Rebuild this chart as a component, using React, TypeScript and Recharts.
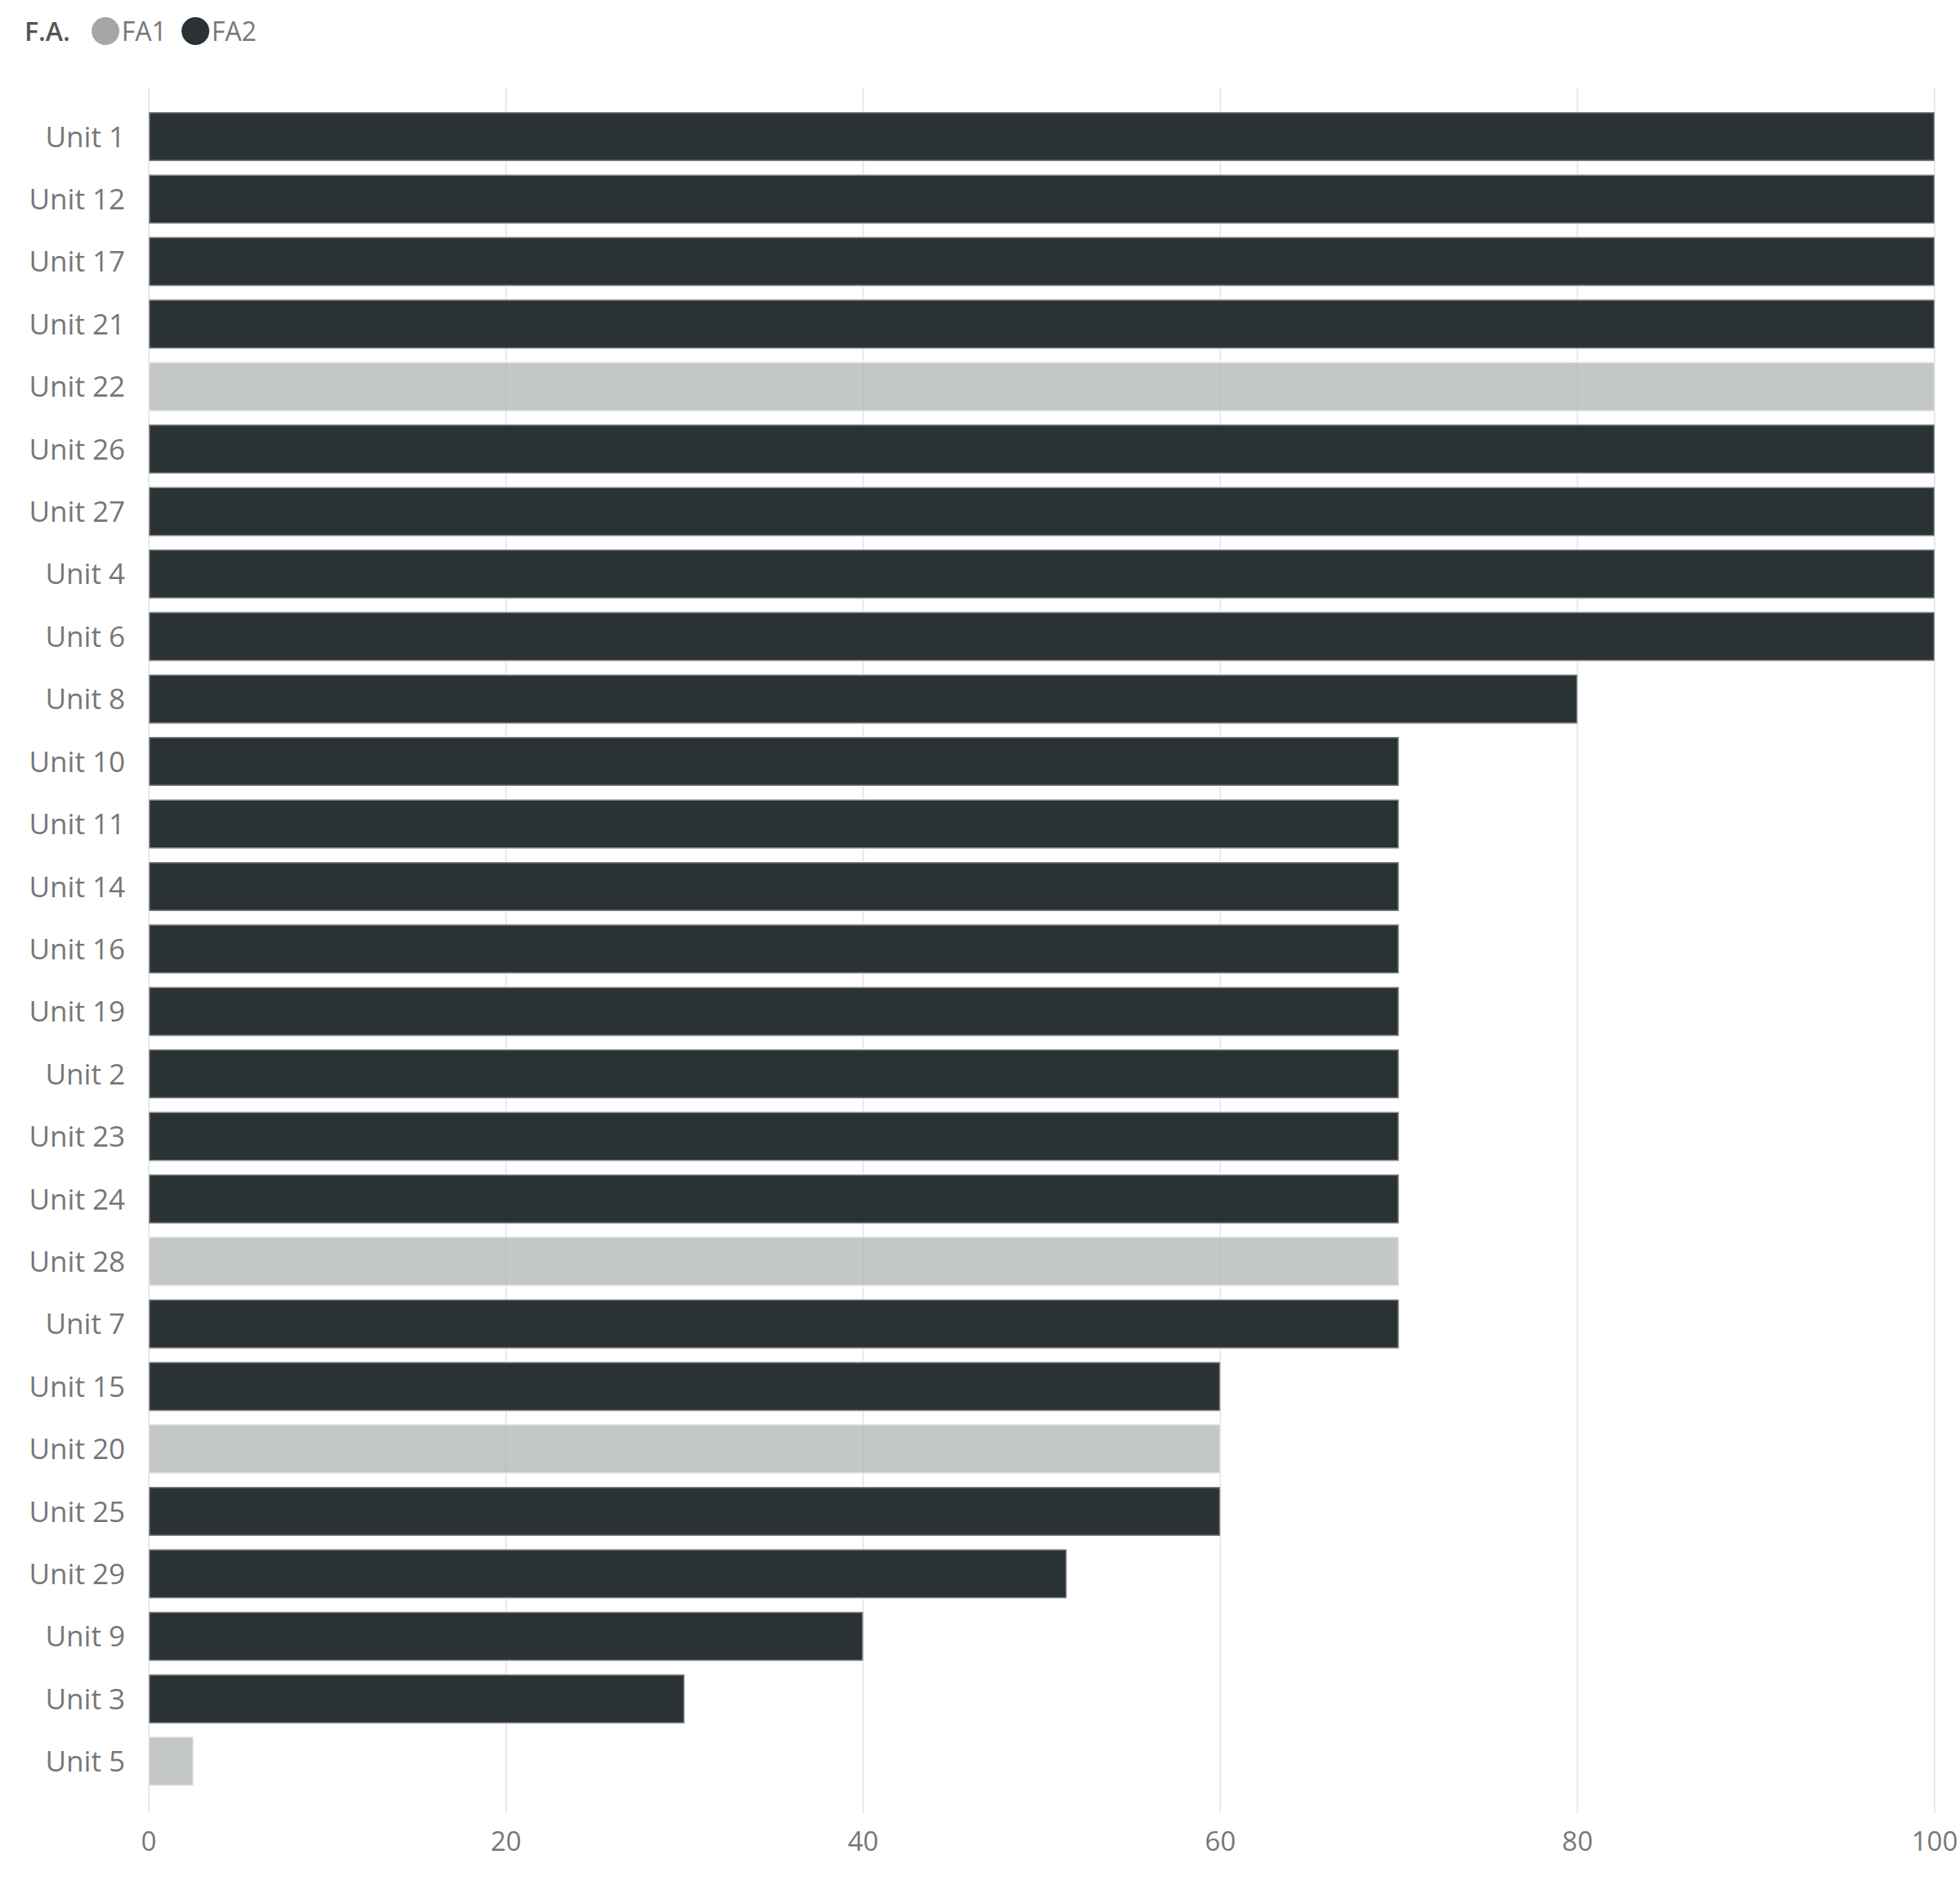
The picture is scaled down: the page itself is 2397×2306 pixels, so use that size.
import React from 'react';
import { BarChart, Bar, XAxis, YAxis, CartesianGrid } from 'recharts';

// units in display order (top to bottom)
const units = [
    'Unit 1', 'Unit 12', 'Unit 17', 'Unit 21', 'Unit 22', 'Unit 26', 'Unit 27', 'Unit 4', 'Unit 6',
    'Unit 8', 'Unit 10', 'Unit 11', 'Unit 14', 'Unit 16', 'Unit 19', 'Unit 2', 'Unit 23', 'Unit 24',
    'Unit 28', 'Unit 7', 'Unit 15', 'Unit 20', 'Unit 25', 'Unit 29', 'Unit 9', 'Unit 3', 'Unit 5',
];
const values = [
    100, 100, 100, 100, 100, 100, 100, 100, 100,
    80, 70, 70, 70, 70, 70, 70, 70, 70,
    70, 70, 60, 60, 60, 51.4, 40, 30, 2.5,
];
const groups = [
    'FA2', 'FA2', 'FA2', 'FA2', 'FA1', 'FA2', 'FA2', 'FA2', 'FA2',
    'FA2', 'FA2', 'FA2', 'FA2', 'FA2', 'FA2', 'FA2', 'FA2', 'FA2',
    'FA1', 'FA2', 'FA2', 'FA1', 'FA2', 'FA2', 'FA2', 'FA2', 'FA1',
];
const seriesNames = ['FA1', 'FA2'];
const seriesColors = ['#afb4b3', '#2b3235'];
const legendColors = ['#a6a6a6', '#2b3235'];
const xTicks = [0, 20, 40, 60, 80, 100];

const FONT = '"Open Sans", "Noto Sans", sans-serif';

// one row per unit, value goes in the column of its group
const chartData = units.map((unit, i) => {
    const row: Record<string, any> = { unit };
    seriesNames.forEach((s) => {
        row[s] = groups[i] === s ? values[i] : null;
    });
    return row;
});

const LegendBox = () => (
    <div
        style={{
            position: 'absolute',
            left: 30,
            top: 18,
            display: 'flex',
            alignItems: 'center',
            fontFamily: FONT,
            fontSize: 32,
            color: '#777',
            lineHeight: '40px',
        }}
    >
        <span style={{ fontWeight: 600, color: '#555', marginRight: 26 }}>F.A.</span>
        {seriesNames.map((s, i) => (
            <span key={s} style={{ display: 'flex', alignItems: 'center', marginRight: 18 }}>
                <span
                    style={{
                        width: 34,
                        height: 34,
                        borderRadius: 17,
                        background: legendColors[i],
                        marginRight: 3,
                        display: 'inline-block',
                    }}
                />
                {s}
            </span>
        ))}
    </div>
);

export default function App() {
    return (
        <div style={{ position: 'absolute', left: 0, top: 0, width: 2397, height: 2306, background: '#fff' }}>
            <LegendBox />
            <BarChart
                width={2397}
                height={2306}
                data={chartData}
                layout="vertical"
                margin={{ top: 107, right: 31, bottom: 29, left: 0 }}
                style={{ fontFamily: FONT }}
            >
                <CartesianGrid horizontal={false} stroke="#e8e8e8" strokeWidth={2} />
                <XAxis
                    type="number"
                    domain={[0, 100]}
                    ticks={xTicks}
                    height={60}
                    axisLine={false}
                    tickLine={false}
                    tickMargin={17}
                    tick={{ fill: '#777', fontSize: 33 }}
                />
                <YAxis
                    type="category"
                    dataKey="unit"
                    width={182}
                    axisLine={false}
                    tickLine={false}
                    tickMargin={23}
                    interval={0}
                    padding={{ top: 22, bottom: 25 }}
                    tick={{ fill: '#777', fontSize: 35 }}
                />
                {seriesNames.map((s, i) => (
                    <Bar
                        key={s}
                        dataKey={s}
                        stackId="fa"
                        barSize={60}
                        fill={seriesColors[i]}
                        fillOpacity={i === 0 ? 0.75 : 1}
                        stroke="#ffffff"
                        strokeOpacity={0.4}
                        strokeWidth={3}
                        isAnimationActive={false}
                    />
                ))}
            </BarChart>
        </div>
    );
}
